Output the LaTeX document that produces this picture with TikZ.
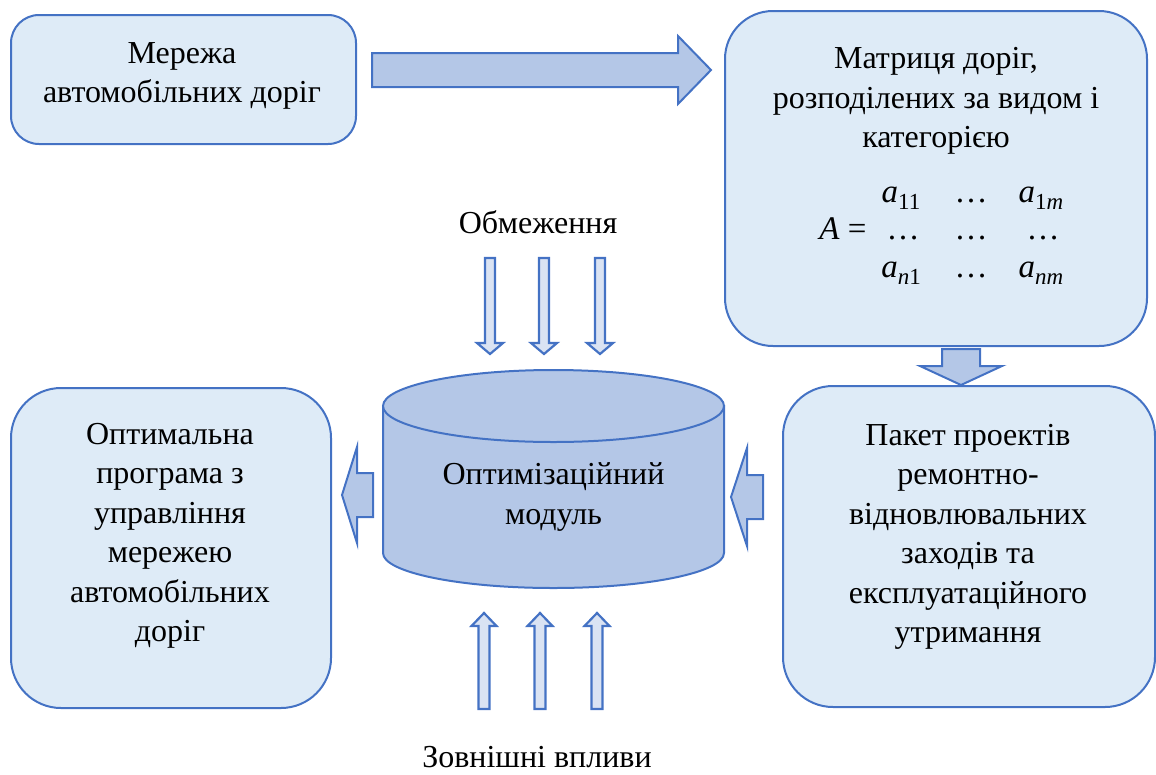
\documentclass[tikz,border=0pt]{standalone}
\usepackage{fontspec}
\setmainfont{Liberation Serif}
\definecolor{edge}{HTML}{4472C4}
\definecolor{boxfill}{HTML}{DEEBF7}
\definecolor{arrowfill}{HTML}{B4C7E7}
\definecolor{thinfill}{HTML}{DAE3F3}
% subscript set in the text font
\newcommand\idx[1]{\raisebox{-0.22em}{\fontsize{23}{23}\selectfont #1}}

\begin{document}
\begin{tikzpicture}[x=1pt,y=-1pt,
  box/.style={draw=edge, fill=boxfill, line width=2pt, anchor=north west, inner sep=0pt},
  txt/.style={font=\fontsize{32}{39.5}\selectfont, align=center, inner sep=0pt},
  mtx/.style={font=\fontsize{33}{34}\selectfont, inner sep=0pt, text height=16pt, text depth=2pt},
  blockarrow/.style={draw=edge, fill=arrowfill, line width=2pt, line join=miter},
  thinarrow/.style={draw=edge, fill=thinfill, line width=2.2pt, line join=miter}]
\useasboundingbox (0,0) rectangle (1156,774);

% rounded boxes
\node[box, rounded corners=28pt, minimum width=345pt, minimum height=129pt] (net) at (10,14) {};
\node[box, rounded corners=48pt, minimum width=422pt, minimum height=335pt] (matrix) at (724,10) {};
\node[box, rounded corners=50pt, minimum width=372pt, minimum height=321pt] (pack) at (782,385) {};
\node[box, rounded corners=50pt, minimum width=320pt, minimum height=320pt] (prog) at (10,387) {};

% box texts
\node[txt] (netT) at (182,76) {Мережа\\автомобільних доріг};
\node[txt] (matT) at (936,101) {Матриця доріг,\\розподілених за видом і\\категорією};
\node[txt] (packT) at (968,537) {Пакет проектів\\ремонтно-\\відновлювальних\\заходів та\\експлуатаційного\\утримання};
\node[txt] (progT) at (170,536) {Оптимальна\\програма з\\управління\\мережею\\автомобільних\\доріг};

% matrix of roads
\node[mtx] (mA) at (843,232) {\textit{A} =};
\node[mtx] (m11) at (901,195) {\textit{a}\idx{11}};
\node[mtx] (m12) at (971,195) {…};
\node[mtx] (m13) at (1041,195) {\textit{a}\idx{1\textit{m}}};
\node[mtx] (m21) at (903,232) {…};
\node[mtx] (m22) at (971,232) {…};
\node[mtx] (m23) at (1043,232) {…};
\node[mtx] (m31) at (901,270) {\textit{a}\idx{\textit{n}1}};
\node[mtx] (m32) at (971,270) {…};
\node[mtx] (m33) at (1041,270) {\textit{a}\idx{\textit{nm}}};

% optimisation module (cylinder)
\coordinate (cyl) at (553.5,480);
\draw[blockarrow] (383,406) -- (383,553)
  arc[start angle=180, end angle=360, x radius=170.5pt, y radius=35pt]
  -- (724,406) -- cycle;
\draw[blockarrow] (553.5,406) ellipse[x radius=170.5pt, y radius=36pt];
\node[txt] (cylT) at (553.5,497) {Оптимізаційний\\модуль};

% block arrows
\draw[blockarrow] (372,53) -- (678,53) -- (678,36) -- (711,70) -- (678,104)
  -- (678,87) -- (372,87) -- cycle;
\draw[blockarrow] (942,349) -- (980,349) -- (980,366) -- (1002,366) -- (961,385)
  -- (920,366) -- (942,366) -- cycle;
\draw[blockarrow] (373,473) -- (357,473) -- (357,447) -- (342,495) -- (357,543)
  -- (357,517) -- (373,517) -- cycle;
\draw[blockarrow] (763,475) -- (747,475) -- (747,448) -- (731,497) -- (747,546)
  -- (747,519) -- (763,519) -- cycle;

% constraints
\node[txt] (limT) at (538,222) {Обмеження};
\foreach \c in {490,544,600}{
  \draw[thinarrow] (\c-5,258) -- (\c+5,258) -- (\c+5,343) -- (\c+13,343)
    -- (\c,354) -- (\c-13,343) -- (\c-5,343) -- cycle;
}

% external influences
\node[txt] (extT) at (537,757) {Зовнішні впливи};
\foreach \c in {484,540,597}{
  \draw[thinarrow] (\c-5.5,709) -- (\c+5.5,709) -- (\c+5.5,626) -- (\c+12.5,626)
    -- (\c,613) -- (\c-12.5,626) -- (\c-5.5,626) -- cycle;
}
\end{tikzpicture}
\end{document}
